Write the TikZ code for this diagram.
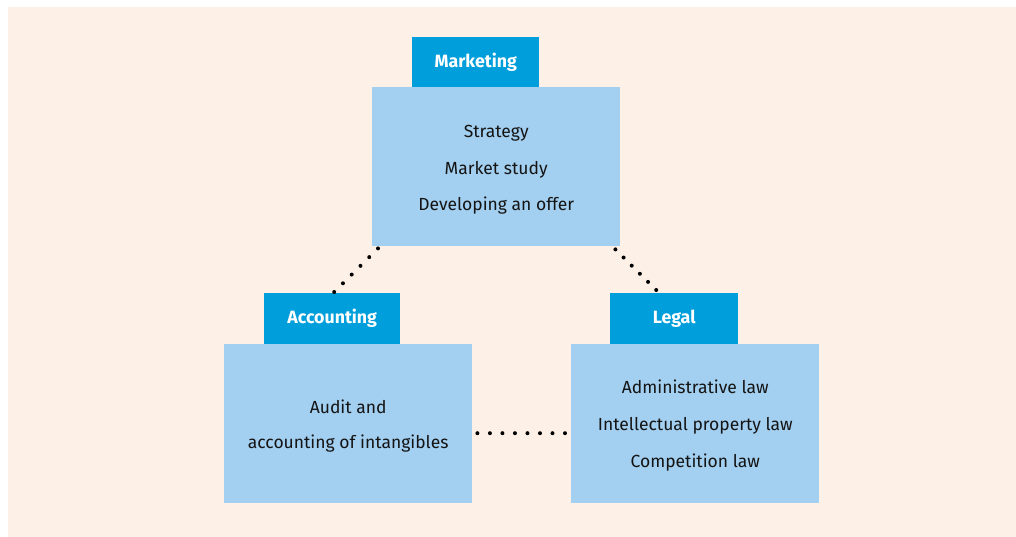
\documentclass[tikz,border=0pt]{standalone}
\usepackage{fontspec}
\setmainfont{Fira Sans}
\usetikzlibrary{calc}
\definecolor{peach}{HTML}{FDF0E7}
\definecolor{lightblue}{HTML}{A3CFF0}
\definecolor{darkblue}{HTML}{009FDB}
\definecolor{ink}{HTML}{141414}
\begin{document}
\begin{tikzpicture}[x=1pt,y=-1pt,
  mainbox/.style={fill=lightblue, draw=none, anchor=north west, minimum width=248pt, minimum height=159pt, inner sep=0pt},
  bodytext/.style={align=center, text=ink, inner sep=0pt},
  hdrbox/.style={fill=darkblue, draw=none, anchor=north west, minimum height=51pt, inner sep=0pt, text=white, font=\fontsize{17.8}{20}\selectfont\bfseries},
  dotfill/.style={fill=black}]
\useasboundingbox (0,0) rectangle (1016,537);
\fill[white] (0,0) rectangle (1016,537);
\fill[peach] (8,7) rectangle (1016,537);
% main boxes
\node[mainbox] (mk) at (372,87) {};
\node[mainbox] (acc) at (224,344) {};
\node[mainbox] (leg) at (571,344) {};
% box texts
\node[bodytext, font=\fontsize{17.5}{36.5}\selectfont] (mkt) at ($(mk.center)+(0,3.5)$) {Strategy\\Market study\\Developing an offer};
\node[bodytext, font=\fontsize{17.5}{35.5}\selectfont] (acct) at ($(acc.center)+(0,2.5)$) {Audit and\\accounting of intangibles};
\node[bodytext, font=\fontsize{17.5}{37}\selectfont] (legt) at ($(leg.center)+(0,2)$) {Administrative law\\Intellectual property law\\Competition law};
% headers
\node[hdrbox, minimum width=127pt, minimum height=50pt] (mkh) at (412,37) {Marketing};
\node[hdrbox, minimum width=136pt] (acch) at (264,293) {Accounting};
\node[hdrbox, minimum width=128pt] (legh) at (610,293) {Legal};
% dotted connectors
\coordinate (d1a) at ($(mk.south west)+(6,2)$);
\coordinate (d1b) at ($(acch.north)+(2,-1)$);
\coordinate (d2a) at ($(mk.south east)+(-5,3)$);
\coordinate (d2b) at ($(legh.north)+(-18,-3)$);
\coordinate (d3a) at ($(acc.east)+(5,9.5)$);
\coordinate (d3b) at ($(leg.west)+(-6,9.5)$);
\foreach \t in {0,0.2,0.4,0.6,0.8,1}{
  \fill[dotfill] ($(d1a)!\t!(d1b)$) circle (2pt);
  \fill[dotfill] ($(d2a)!\t!(d2b)$) circle (2pt);
}
\foreach \t in {0,1,...,7}{
  \fill[dotfill] ($(d3a)!\t/7!(d3b)$) circle (2pt);
}
\end{tikzpicture}
\end{document}
